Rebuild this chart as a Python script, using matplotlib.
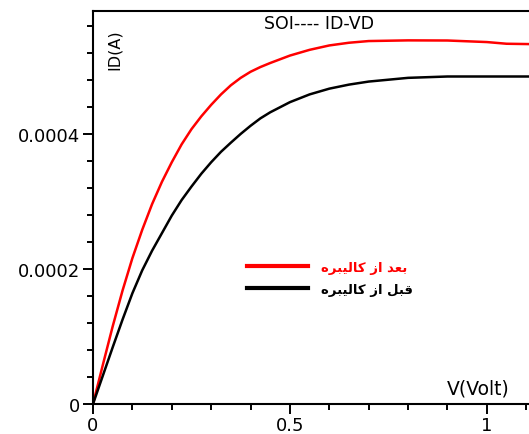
import numpy as np
import matplotlib.pyplot as plt

# values (ID in units of 1e-4 A)
vd_after = [0, 0.025, 0.05, 0.075, 0.1, 0.125, 0.15, 0.175, 0.2, 0.225, 0.25, 0.275,
            0.3, 0.325, 0.35, 0.375, 0.4, 0.425, 0.45, 0.5, 0.55, 0.6, 0.65, 0.7, 0.8,
            0.9, 1.0, 1.05, 1.107]
id_after = [0, 0.58, 1.15, 1.68, 2.16, 2.58, 2.96, 3.29, 3.58, 3.845, 4.07, 4.26,
            4.43, 4.585, 4.72, 4.83, 4.92, 4.99, 5.05, 5.16, 5.245, 5.31, 5.35, 5.375,
            5.385, 5.383, 5.36, 5.335, 5.33]

vd_before = [0, 0.025, 0.05, 0.075, 0.1, 0.125, 0.15, 0.175, 0.2, 0.225, 0.25, 0.275,
             0.3, 0.325, 0.35, 0.375, 0.4, 0.425, 0.45, 0.5, 0.55, 0.6, 0.65, 0.7, 0.8,
             0.9, 1.107]
id_before = [0, 0.42, 0.84, 1.25, 1.64, 1.98, 2.27, 2.53, 2.79, 3.02, 3.22, 3.41,
             3.58, 3.735, 3.87, 4.0, 4.12, 4.23, 4.32, 4.47, 4.585, 4.67, 4.73, 4.775,
             4.83, 4.85, 4.85]

label_after = "بعد از کالیبره"
label_before = "قبل از کالیبره"

x_ticks = [0, 0.5, 1]
x_ticklabels = ["0", "0.5", "1"]
y_ticks = [0, 0.0002, 0.0004]
y_ticklabels = ["0", "0.0002", "0.0004"]

# matplotlib does no arabic shaping, so map letters to their joined forms
FORMS = {  # isolated, final, initial, medial
    'ب': ('\uFE8F', '\uFE90', '\uFE91', '\uFE92'),
    'ع': ('\uFEC9', '\uFECA', '\uFECB', '\uFECC'),
    'د': ('\uFEA9', '\uFEAA', '\uFEA9', '\uFEAA'),
    'ا': ('\uFE8D', '\uFE8E', '\uFE8D', '\uFE8E'),
    'ز': ('\uFEAF', '\uFEB0', '\uFEAF', '\uFEB0'),
    'ر': ('\uFEAD', '\uFEAE', '\uFEAD', '\uFEAE'),
    'ک': ('\uFB8E', '\uFB8F', '\uFB90', '\uFB91'),
    'ل': ('\uFEDD', '\uFEDE', '\uFEDF', '\uFEE0'),
    'ی': ('\uFBFC', '\uFBFD', '\uFBFE', '\uFBFF'),
    'ه': ('\uFEE9', '\uFEEA', '\uFEEB', '\uFEEC'),
    'ق': ('\uFED5', '\uFED6', '\uFED7', '\uFED8'),
}
NO_FORWARD = set('ادذرزو')


def shape(text):
    words = []
    for w in text.split(' '):
        out = []
        for i, ch in enumerate(w):
            prev_joins = i > 0 and w[i - 1] not in NO_FORWARD
            next_joins = i < len(w) - 1 and ch not in NO_FORWARD
            iso, fin, ini, med = FORMS[ch]
            if prev_joins and next_joins:
                out.append(med)
            elif prev_joins:
                out.append(fin)
            elif next_joins:
                out.append(ini)
            else:
                out.append(iso)
        words.append(''.join(out)[::-1])
    return ' '.join(words[::-1])


plt.rcParams['font.family'] = ['DejaVu Sans']

fig = plt.figure(figsize=(5.29, 4.35), dpi=100)
ax = fig.add_axes([93 / 529, 1 - 405 / 435, 1 - 93 / 529, (405 - 12) / 435])

ax.plot(vd_after, np.array(id_after) * 1e-4, color='#ff0000', lw=1.8,
        label=shape(label_after), solid_joinstyle='round')
ax.plot(vd_before, np.array(id_before) * 1e-4, color='black', lw=1.8,
        label=shape(label_before), solid_joinstyle='round')

ax.set_xlim(0, 1.107)
ax.set_ylim(0, 0.000582)

ax.spines['right'].set_visible(False)
for s in ['left', 'top', 'bottom']:
    ax.spines[s].set_linewidth(1.5)

ax.set_xticks(x_ticks)
ax.set_xticklabels(x_ticklabels)
ax.set_xticks(np.arange(0, 1.11, 0.1), minor=True)
ax.set_yticks(y_ticks)
ax.set_yticklabels(y_ticklabels)
ax.set_yticks(np.arange(0, 0.00057, 0.00004), minor=True)
ax.tick_params(which='major', length=7.5, width=1.4, labelsize=13, pad=1.5)
ax.tick_params(which='minor', length=4.5, width=1.4)

ax.text(0.518, 0.97, "SOI---- ID-VD", transform=ax.transAxes, ha='center', va='center',
        fontsize=12.5)
ax.text(0.05, 0.905, "ID(A)", transform=ax.transAxes, ha='center', va='center',
        rotation=90, fontsize=11.5)
ax.text(0.956, 0.04, "V(Volt)", transform=ax.transAxes, ha='right', va='center',
        fontsize=13.5)

leg = ax.legend(loc='upper left', bbox_to_anchor=(0.353, 0.365), frameon=False,
                handlelength=4.6, handletextpad=1.05, borderpad=0, borderaxespad=0,
                labelspacing=0.7, prop={'size': 9.5, 'weight': 'bold'},
                labelcolor='linecolor')
for line in leg.get_lines():
    line.set_linewidth(3)

fig.savefig('out.png', dpi=100)
